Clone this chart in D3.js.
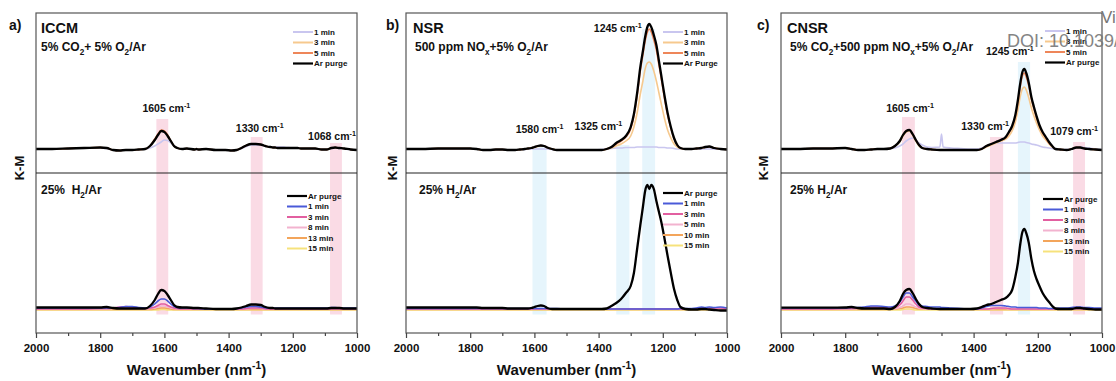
<!DOCTYPE html>
<html>
<head>
<meta charset="utf-8">
<script src="https://cdn.jsdelivr.net/npm/d3@7"></script>
<style>
  html, body { margin: 0; padding: 0; background: #fff; }
  svg { display: block; font-family: "Liberation Sans", Arial, sans-serif; }
</style>
</head>
<body>
<div id="chart"></div>
<script>
// wavenumber grid (cm-1) shared by every spectrum below
const wn = [
  2000, 1950, 1900, 1850, 1800, 1780, 1760, 1740, 1720, 1700, 1680, 1660,
  1645, 1630, 1620, 1610, 1600, 1590, 1580, 1570, 1560, 1545, 1530,
  1505, 1500, 1495, 1470, 1440, 1410, 1390, 1375,
  1360, 1345, 1330, 1315, 1300, 1290, 1280,
  1270, 1262, 1255, 1248, 1242, 1236, 1228, 1220, 1212, 1204,
  1195, 1185, 1175, 1165, 1155, 1145, 1130,
  1110, 1095, 1080, 1068, 1055, 1040, 1020, 1000
];

// ---- a) ICCM, adsorption (5% CO2 + 5% O2/Ar) ----
const iccmTop1 = [
  0, 0, 0.005, 0.01, 0.01, 0.005, -0.01, -0.015, -0.01, -0.01, -0.005, 0,
  0.01, 0.03, 0.05, 0.07, 0.09, 0.085, 0.06, 0.03, 0.01, 0, 0,
  -0.005, -0.005, -0.005, 0, -0.01, -0.01, -0.015, -0.01,
  0.005, 0.025, 0.04, 0.04, 0.04, 0.03, 0.025,
  0.02, 0.02, 0.02, 0.02, 0.02, 0.02, 0.02, 0.015, 0.015, 0.01,
  0.01, 0.01, 0.005, 0.005, 0.005, 0.005, 0,
  -0.005, -0.005, 0.005, 0.01, 0.005, 0, -0.005, -0.01
];
const iccmTop3 = [
  0, 0, 0.005, 0.01, 0.015, 0.01, -0.01, -0.015, -0.01, -0.01, -0.005, 0,
  0.03, 0.09, 0.145, 0.185, 0.175, 0.135, 0.08, 0.03, 0.01, 0, 0.005,
  -0.005, 0, -0.005, 0, -0.01, -0.01, -0.015, -0.01,
  0.01, 0.035, 0.05, 0.05, 0.045, 0.035, 0.025,
  0.02, 0.015, 0.015, 0.01, 0.01, 0.01, 0.01, 0.01, 0.01, 0.01,
  0.01, 0.01, 0.005, 0.005, 0.005, 0.005, 0.005,
  -0.005, -0.005, 0.01, 0.015, 0.01, 0.005, -0.005, -0.01
];
const iccmTop5 = [
  0, 0, 0.005, 0.01, 0.015, 0.01, -0.01, -0.015, -0.01, -0.01, -0.005, 0,
  0.03, 0.10, 0.15, 0.19, 0.18, 0.14, 0.08, 0.03, 0.01, 0, 0.005,
  -0.005, 0, -0.005, 0, -0.01, -0.01, -0.015, -0.01,
  0.01, 0.035, 0.05, 0.05, 0.045, 0.035, 0.025,
  0.02, 0.015, 0.015, 0.01, 0.01, 0.01, 0.01, 0.01, 0.01, 0.01,
  0.01, 0.01, 0.005, 0.005, 0.005, 0.005, 0.005,
  -0.005, -0.005, 0.01, 0.015, 0.01, 0.005, -0.005, -0.01
];
const iccmTopAr = [
  0, 0, 0.005, 0.01, 0.015, 0.01, -0.01, -0.015, -0.01, -0.01, -0.005, 0,
  0.03, 0.09, 0.14, 0.18, 0.17, 0.13, 0.08, 0.03, 0.01, 0, 0.005,
  -0.005, 0, -0.005, 0, -0.01, -0.01, -0.015, -0.01,
  0.01, 0.035, 0.05, 0.05, 0.045, 0.035, 0.025,
  0.02, 0.015, 0.015, 0.01, 0.01, 0.01, 0.01, 0.01, 0.01, 0.01,
  0.01, 0.01, 0.005, 0.005, 0.005, 0.005, 0.005,
  -0.005, -0.005, 0.01, 0.015, 0.01, 0.005, -0.005, -0.01
];
// ICCM, reduction (25% H2/Ar)
const iccmBotAr = [
  0.015, 0.015, 0.015, 0.015, 0.015, 0.02, 0.01, 0.005, 0.005, 0.005, 0.005, 0.005,
  0.03, 0.09, 0.15, 0.19, 0.18, 0.14, 0.09, 0.04, 0.02, 0.015, 0.015,
  0.01, 0.01, 0.01, 0.005, 0, 0, 0, 0.005,
  0.015, 0.03, 0.045, 0.045, 0.04, 0.025, 0.015,
  0.01, 0.01, 0.005, 0.005, 0.005, 0.005, 0.005, 0.005, 0.005, 0.005,
  0.005, 0.005, 0.005, 0.005, 0.005, 0.005, 0.005,
  0.005, 0.005, 0.01, 0.01, 0.01, 0.005, 0.005, 0.005
];
const iccmBot1 = [
  0.01, 0.01, 0.01, 0.01, 0.01, 0.01, 0.01, 0.015, 0.025, 0.025, 0.015, 0.01,
  0.02, 0.05, 0.08, 0.10, 0.10, 0.08, 0.05, 0.025, 0.015, 0.01, 0.01,
  0.005, 0.005, 0.005, 0, 0, 0, 0, 0.005,
  0.01, 0.02, 0.025, 0.025, 0.02, 0.015, 0.01,
  0.01, 0.01, 0.01, 0.01, 0.01, 0.01, 0.01, 0.01, 0.01, 0.01,
  0.01, 0.01, 0.01, 0.01, 0.01, 0.01, 0.01,
  0.01, 0.01, 0.015, 0.015, 0.01, 0.01, 0.01, 0.01
];
const iccmBot3 = [
  0, 0, 0, 0, 0.005, 0.005, 0.01, 0.02, 0.025, 0.02, 0.01, 0.005,
  0.01, 0.02, 0.035, 0.05, 0.05, 0.035, 0.02, 0.01, 0.005, 0, 0,
  0, 0, 0, 0, 0, 0, 0, 0,
  0, 0.005, 0.01, 0.01, 0.01, 0.005, 0,
  0, 0, 0, 0, 0, 0, 0, 0, 0, 0,
  0, 0, 0, 0, 0, 0, 0,
  0, 0, 0, 0, 0, 0, 0, 0
];
const iccmBot8 = [
  0, 0, 0, 0, 0, 0, 0.005, 0.01, 0.015, 0.01, 0.005, 0,
  0.005, 0.01, 0.02, 0.03, 0.03, 0.02, 0.01, 0.005, 0, 0, 0,
  0, 0, 0, 0, 0, 0, 0, 0,
  0, 0, 0.005, 0.005, 0.005, 0, 0,
  0, 0, 0, 0, 0, 0, 0, 0, 0, 0,
  0, 0, 0, 0, 0, 0, 0,
  0, 0, 0, 0, 0, 0, 0, 0
];
const iccmBot13 = [
  -0.005, -0.005, -0.005, -0.005, -0.005, -0.005, -0.005, -0.005, -0.005, -0.005, -0.005, -0.005,
  -0.005, 0, 0.005, 0.01, 0.01, 0.005, 0, -0.005, -0.005, -0.005, -0.005,
  -0.005, -0.005, -0.005, -0.005, -0.005, -0.005, -0.005, -0.005,
  -0.005, -0.005, -0.005, -0.005, -0.005, -0.005, -0.005,
  -0.005, -0.005, -0.005, -0.005, -0.005, -0.005, -0.005, -0.005, -0.005, -0.005,
  -0.005, -0.005, -0.005, -0.005, -0.005, -0.005, -0.005,
  -0.005, -0.005, -0.005, -0.005, -0.005, -0.005, -0.005, -0.005
];
const iccmBot15 = [
  -0.01, -0.01, -0.01, -0.01, -0.01, -0.01, -0.01, -0.01, -0.01, -0.01, -0.01, -0.01,
  -0.01, -0.01, -0.01, -0.005, -0.005, -0.01, -0.01, -0.01, -0.01, -0.01, -0.01,
  -0.01, -0.01, -0.01, -0.01, -0.01, -0.01, -0.01, -0.01,
  -0.01, -0.01, -0.01, -0.01, -0.01, -0.01, -0.01,
  -0.01, -0.01, -0.01, -0.01, -0.01, -0.01, -0.01, -0.01, -0.01, -0.01,
  -0.01, -0.01, -0.01, -0.01, -0.01, -0.01, -0.01,
  -0.01, -0.01, -0.01, -0.01, -0.01, -0.01, -0.01, -0.01
];

// ---- b) NSR, adsorption (500 ppm NOx + 5% O2/Ar) ----
const nsrTop1 = [
  0, 0, 0, 0, 0, 0, -0.01, -0.01, -0.005, -0.005, -0.01, -0.01,
  -0.005, -0.005, 0, 0, 0, 0, 0, 0, 0, -0.005, -0.01,
  -0.01, -0.01, -0.01, -0.01, -0.01, -0.01, -0.005, 0,
  0.005, 0.01, 0.01, 0.015, 0.015, 0.015, 0.02,
  0.02, 0.02, 0.02, 0.02, 0.02, 0.02, 0.02, 0.02, 0.015, 0.015,
  0.015, 0.01, 0.01, 0.005, 0, 0, 0,
  0, 0, 0, 0, 0, 0, 0, -0.005
];
const nsrTop3 = [
  0, 0, 0.005, 0.005, 0.005, 0, -0.01, -0.01, -0.005, -0.005, -0.01, -0.01,
  -0.005, 0, 0.005, 0.01, 0.015, 0.025, 0.03, 0.03, 0.015, 0, -0.01,
  -0.01, -0.01, -0.01, -0.01, -0.01, -0.01, -0.01, 0,
  0.01, 0.03, 0.05, 0.08, 0.13, 0.22, 0.36,
  0.55, 0.68, 0.80, 0.86, 0.87, 0.85, 0.78, 0.68, 0.56, 0.44,
  0.31, 0.19, 0.11, 0.05, 0.02, 0.005, 0,
  0, 0.005, 0.01, 0.015, 0.02, 0.01, 0, -0.005
];
const nsrTop5 = [
  0, 0, 0.005, 0.005, 0.005, 0, -0.01, -0.01, -0.005, -0.005, -0.01, -0.01,
  -0.005, 0, 0.005, 0.01, 0.02, 0.03, 0.035, 0.03, 0.015, 0, -0.01,
  -0.01, -0.01, -0.01, -0.01, -0.01, -0.01, -0.01, 0,
  0.02, 0.05, 0.08, 0.12, 0.20, 0.33, 0.53,
  0.78, 0.94, 1.08, 1.17, 1.20, 1.17, 1.09, 0.99, 0.84, 0.69,
  0.51, 0.34, 0.21, 0.10, 0.04, 0.01, 0,
  0, 0.005, 0.01, 0.02, 0.025, 0.01, 0, -0.005
];
const nsrTopAr = [
  0, 0, 0.005, 0.005, 0.005, 0, -0.01, -0.01, -0.005, -0.005, -0.01, -0.01,
  -0.005, 0, 0.005, 0.01, 0.02, 0.03, 0.035, 0.03, 0.015, 0, -0.01,
  -0.01, -0.01, -0.01, -0.01, -0.01, -0.01, -0.01, 0,
  0.02, 0.06, 0.09, 0.13, 0.22, 0.35, 0.56,
  0.82, 0.98, 1.12, 1.22, 1.25, 1.22, 1.14, 1.04, 0.88, 0.72,
  0.54, 0.36, 0.22, 0.11, 0.04, 0.01, 0,
  0, 0.005, 0.01, 0.02, 0.025, 0.01, 0, -0.005
];
// NSR, reduction (25% H2/Ar)
const nsrBotAr = [
  0.015, 0.015, 0.015, 0.015, 0.015, 0.015, 0.01, 0.01, 0.01, 0.01, 0.005, 0.005,
  0.005, 0.005, 0.005, 0.01, 0.02, 0.03, 0.035, 0.03, 0.01, 0, 0,
  0, 0, 0, 0, 0, 0, 0, 0.005,
  0.03, 0.06, 0.10, 0.16, 0.23, 0.36, 0.60,
  0.84, 1.02, 1.18, 1.24, 1.20, 1.24, 1.20, 1.08, 0.97, 0.86,
  0.71, 0.53, 0.36, 0.20, 0.09, 0.02, 0,
  -0.005, -0.005, 0, 0, -0.005, -0.01, -0.015, -0.015
];
const nsrBot1 = [
  0.005, 0.005, 0.005, 0.005, 0.005, 0.005, 0.005, 0.005, 0.005, 0.005, 0.005, 0.005,
  0.005, 0.005, 0.005, 0.005, 0.005, 0.005, 0.005, 0.005, 0.005, 0.005, 0.005,
  0, 0, 0, 0, 0, 0, 0, 0,
  0, 0, 0, 0, 0, 0, 0,
  0, 0, 0, 0, 0, 0, 0, 0, 0, 0,
  0, 0, 0, 0, 0, 0.005, 0.005,
  0.005, 0.01, 0.02, 0.015, 0.02, 0.015, 0.02, 0.01
];
const nsrBot3 = [
  0, 0, 0, 0, 0, 0, 0, 0, 0, 0, 0, 0,
  0, 0, 0, 0, 0, 0, 0, 0, 0, 0, 0,
  0, 0, 0, 0, 0, 0, 0, 0,
  0, 0, 0, 0, 0, 0, 0,
  0, 0, 0, 0, 0, 0, 0, 0, 0, 0,
  0, 0, 0, 0, 0, 0, 0,
  0, 0.005, 0.01, 0.01, 0.01, 0.01, 0.01, 0.005
];
const nsrBot5 = [
  0, 0, 0, 0, 0, 0, 0, 0, 0, 0, 0, 0,
  0, 0, 0, 0, 0, 0, 0, 0, 0, 0, 0,
  0, 0, 0, 0, 0, 0, 0, 0,
  0, 0, 0, 0, 0, 0, 0,
  0, 0, 0, 0, 0, 0, 0, 0, 0, 0,
  0, 0, 0, 0, 0, 0, 0,
  0, 0, 0, 0, 0, 0, 0, 0
];
const nsrBot10 = [
  -0.005, -0.005, -0.005, -0.005, -0.005, -0.005, -0.005, -0.005, -0.005, -0.005, -0.005, -0.005,
  -0.005, -0.005, -0.005, -0.005, -0.005, -0.005, -0.005, -0.005, -0.005, -0.005, -0.005,
  -0.005, -0.005, -0.005, -0.005, -0.005, -0.005, -0.005, -0.005,
  -0.005, -0.005, -0.005, -0.005, -0.005, -0.005, -0.005,
  -0.005, -0.005, -0.005, -0.005, -0.005, -0.005, -0.005, -0.005, -0.005, -0.005,
  -0.005, -0.005, -0.005, -0.005, -0.005, -0.005, -0.005,
  -0.005, -0.005, -0.005, -0.005, -0.005, -0.005, -0.005, -0.005
];
const nsrBot15 = [
  -0.01, -0.01, -0.01, -0.01, -0.01, -0.01, -0.01, -0.01, -0.01, -0.01, -0.01, -0.01,
  -0.01, -0.01, -0.01, -0.01, -0.01, -0.01, -0.01, -0.01, -0.01, -0.01, -0.01,
  -0.01, -0.01, -0.01, -0.01, -0.01, -0.01, -0.01, -0.01,
  -0.01, -0.01, -0.01, -0.01, -0.01, -0.01, -0.01,
  -0.01, -0.01, -0.01, -0.01, -0.01, -0.01, -0.01, -0.01, -0.01, -0.01,
  -0.01, -0.01, -0.01, -0.01, -0.01, -0.01, -0.01,
  -0.01, -0.01, -0.01, -0.01, -0.01, -0.01, -0.01, -0.01
];

// ---- c) CNSR, adsorption (5% CO2 + 500 ppm NOx + 5% O2/Ar) ----
const cnsrTop1 = [
  0, 0, 0.005, 0.005, 0.01, 0, -0.01, -0.01, -0.005, 0, 0, 0.005,
  0.01, 0.03, 0.05, 0.08, 0.10, 0.11, 0.09, 0.06, 0.04, 0.02, 0.015,
  0.02, 0.15, 0.02, 0.01, 0.005, 0, 0, 0.01,
  0.03, 0.05, 0.06, 0.06, 0.06, 0.06, 0.06,
  0.06, 0.065, 0.07, 0.07, 0.07, 0.065, 0.06, 0.05, 0.045, 0.04,
  0.03, 0.02, 0.015, 0.01, 0.005, 0, -0.005,
  -0.005, 0, 0.01, 0.02, 0.015, 0.01, 0, -0.005
];
const cnsrTop3 = [
  0, 0, 0.005, 0.005, 0.01, 0, -0.01, -0.01, -0.005, 0, 0, 0.005,
  0.03, 0.07, 0.13, 0.17, 0.18, 0.14, 0.08, 0.03, 0.01, 0, -0.005,
  -0.01, -0.01, -0.01, -0.01, -0.01, -0.01, -0.01, 0,
  0.02, 0.04, 0.06, 0.08, 0.10, 0.13, 0.18,
  0.27, 0.39, 0.52, 0.60, 0.62, 0.59, 0.51, 0.41, 0.33, 0.26,
  0.19, 0.13, 0.09, 0.05, 0.02, 0, -0.005,
  -0.01, 0, 0.015, 0.015, 0.005, 0, -0.005, -0.01
];
const cnsrTop5 = [
  0, 0, 0.005, 0.005, 0.01, 0, -0.01, -0.01, -0.005, 0, 0, 0.005,
  0.03, 0.08, 0.14, 0.18, 0.19, 0.15, 0.09, 0.04, 0.01, 0, -0.005,
  -0.01, -0.01, -0.01, -0.01, -0.01, -0.01, -0.01, 0,
  0.03, 0.05, 0.07, 0.09, 0.11, 0.16, 0.22,
  0.32, 0.46, 0.62, 0.73, 0.76, 0.72, 0.63, 0.50, 0.40, 0.31,
  0.23, 0.16, 0.11, 0.06, 0.03, 0, -0.005,
  -0.01, 0, 0.015, 0.015, 0.005, 0, -0.005, -0.01
];
const cnsrTopAr = [
  0, 0, 0.005, 0.005, 0.01, 0, -0.01, -0.01, -0.005, 0, 0, 0.005,
  0.03, 0.08, 0.14, 0.18, 0.19, 0.15, 0.09, 0.04, 0.01, 0, -0.005,
  -0.01, -0.01, -0.01, -0.01, -0.01, -0.01, -0.01, 0,
  0.03, 0.05, 0.07, 0.09, 0.12, 0.17, 0.23,
  0.34, 0.49, 0.65, 0.77, 0.80, 0.76, 0.66, 0.52, 0.42, 0.33,
  0.24, 0.17, 0.12, 0.07, 0.03, 0, -0.005,
  -0.01, 0, 0.015, 0.015, 0.005, 0, -0.005, -0.01
];
// CNSR, reduction (25% H2/Ar)
const cnsrBotAr = [
  0.013, 0.013, 0.013, 0.013, 0.015, 0.02, 0.01, 0.005, 0.005, 0.005, 0.005, 0,
  0.02, 0.08, 0.15, 0.19, 0.20, 0.16, 0.10, 0.05, 0.02, 0.01, 0.005,
  0, 0, 0, 0, 0, 0, 0.005, 0.02,
  0.04, 0.05, 0.07, 0.09, 0.11, 0.14, 0.19,
  0.32, 0.46, 0.64, 0.77, 0.80, 0.76, 0.66, 0.50, 0.38, 0.30,
  0.23, 0.16, 0.11, 0.07, 0.03, 0.005, 0,
  0, 0, 0.01, 0.01, 0.005, 0, -0.005, -0.005
];
const cnsrBot1 = [
  0.01, 0.01, 0.01, 0.01, 0.01, 0.015, 0.015, 0.02, 0.03, 0.03, 0.025, 0.02,
  0.03, 0.07, 0.12, 0.16, 0.16, 0.12, 0.08, 0.04, 0.03, 0.025, 0.02,
  0.02, 0.015, 0.015, 0.01, 0.005, 0, 0, 0.01,
  0.025, 0.035, 0.035, 0.035, 0.03, 0.025, 0.02,
  0.02, 0.015, 0.015, 0.015, 0.015, 0.015, 0.015, 0.015, 0.015, 0.015,
  0.01, 0.01, 0.01, 0.005, 0.005, 0.005, 0.01,
  0.01, 0.015, 0.02, 0.02, 0.015, 0.015, 0.01, 0.01
];
const cnsrBot3 = [
  0, 0, 0, 0, 0.005, 0.005, 0.01, 0.015, 0.02, 0.02, 0.015, 0.01,
  0.015, 0.04, 0.08, 0.12, 0.12, 0.09, 0.05, 0.02, 0.01, 0.005, 0,
  0, 0, 0, 0, 0, 0, 0, 0,
  0, 0.005, 0.01, 0.01, 0.01, 0.005, 0,
  0, 0, 0, 0, 0, 0, 0, 0, 0, 0,
  0, 0, 0, 0, 0, 0, 0,
  0, 0, 0.005, 0.005, 0, 0, 0, 0
];
const cnsrBot8 = [
  0, 0, 0, 0, 0, 0, 0.005, 0.01, 0.01, 0.01, 0.005, 0,
  0.005, 0.015, 0.03, 0.05, 0.05, 0.035, 0.02, 0.01, 0.005, 0, 0,
  0, 0, 0, 0, 0, 0, 0, 0,
  0, 0, 0.005, 0.005, 0.005, 0, 0,
  0, 0, 0, 0, 0, 0, 0, 0, 0, 0,
  0, 0, 0, 0, 0, 0, 0,
  0, 0, 0, 0, 0, 0, 0, 0
];
const cnsrBot13 = [
  -0.005, -0.005, -0.005, -0.005, -0.005, -0.005, -0.005, -0.005, -0.005, -0.005, -0.005, -0.005,
  0, 0.005, 0.01, 0.02, 0.02, 0.015, 0.005, 0, 0, 0, 0,
  -0.005, -0.005, -0.005, -0.005, -0.005, -0.005, -0.005, -0.005,
  -0.005, -0.005, -0.005, -0.005, -0.005, -0.005, -0.005,
  -0.005, -0.005, -0.005, -0.005, -0.005, -0.005, -0.005, -0.005, -0.005, -0.005,
  -0.005, -0.005, -0.005, -0.005, -0.005, -0.005, -0.005,
  -0.005, -0.005, -0.005, -0.005, -0.005, -0.005, -0.005, -0.005
];
const cnsrBot15 = [
  -0.01, -0.01, -0.01, -0.01, -0.01, -0.01, -0.01, -0.01, -0.01, -0.01, -0.01, -0.01,
  -0.01, -0.01, -0.005, 0, 0, -0.005, -0.01, -0.01, -0.01, -0.01, -0.01,
  -0.01, -0.01, -0.01, -0.01, -0.01, -0.01, -0.01, -0.01,
  -0.01, -0.01, -0.01, -0.01, -0.01, -0.01, -0.01,
  -0.01, -0.01, -0.01, -0.01, -0.01, -0.01, -0.01, -0.01, -0.01, -0.01,
  -0.01, -0.01, -0.01, -0.01, -0.01, -0.01, -0.01,
  -0.01, -0.01, -0.01, -0.01, -0.01, -0.01, -0.01, -0.01
];

// legends, bands (wavenumber ranges) and peak labels
const topLegendA = ['1 min', '3 min', '5 min', 'Ar purge'];
const topLegendB = ['1 min', '3 min', '5 min', 'Ar Purge'];
const botLegendAC = ['Ar purge', '1 min', '3 min', '8 min', '13 min', '15 min'];
const botLegendB = ['Ar purge', '1 min', '3 min', '5 min', '10 min', '15 min'];

const iccmBands = [[1625, 1588], [1331, 1294], [1084, 1047]];
const nsrBands = [[1606, 1562], [1345, 1304], [1264, 1224]];
const cnsrBands = [[1623, 1583], [1349, 1308], [1262, 1224], [1090, 1053]];

const iccmPeaks = ['1605', '1330', '1068'];
const nsrPeaks = ['1245', '1580', '1325'];
const cnsrPeaks = ['1605', '1330', '1245', '1079'];

const xTicks = [2000, 1800, 1600, 1400, 1200, 1000];
const xMinorTicks = [1900, 1700, 1500, 1300, 1100];

// ---- drawing ----
const width = 1116, height = 381;
const frameTop = 13, frameMid = 173, frameBottom = 333, frameW = 321;
const topColors = ['#c9c6ef', '#f6c98e', '#ee8659', '#000000'];
const botColors = ['#000000', '#4a5ad8', '#e25fa0', '#f2b3cf', '#f3a55b', '#f6e27c'];
const pink = '#fadbe5', blue = '#e6f5fc';

const panels = [
  {
    left: 36, letter: 'a)', letterX: 9, kmX: 19,
    title: 'ICCM', titleX: 41,
    cond: [['5% CO'], ['2', 'sub'], ['+ 5% O'], ['2', 'sub'], ['/Ar']], condX: 41,
    botCond: [['25%  H'], ['2', 'sub'], ['/Ar']], botCondX: 41,
    top: [iccmTop1, iccmTop3, iccmTop5, iccmTopAr], topLegend: topLegendA, topLegendPos: [257, 32],
    bottom: [iccmBotAr, iccmBot1, iccmBot3, iccmBot8, iccmBot13, iccmBot15], botLegend: botLegendAC, botLegendPos: [251, 196],
    bands: iccmBands, bandTops: [0.30, 0.12, 0.06], bandFill: [pink, pink, pink],
    peaks: iccmPeaks, peakPos: [[1594, 0.37, 'middle'], [1303, 0.17, 'middle'], [1078, 0.09, 'middle']]
  },
  {
    left: 406, letter: 'b)', letterX: 386, kmX: 392,
    title: 'NSR', titleX: 413,
    cond: [['500 ppm NO'], ['x', 'sub'], ['+5% O'], ['2', 'sub'], ['/Ar']], condX: 415,
    botCond: [['25% H'], ['2', 'sub'], ['/Ar']], botCondX: 419,
    top: [nsrTop1, nsrTop3, nsrTop5, nsrTopAr], topLegend: topLegendB, topLegendPos: [257, 32],
    bottom: [nsrBotAr, nsrBot1, nsrBot3, nsrBot5, nsrBot10, nsrBot15], botLegend: botLegendB, botLegendPos: [257, 193],
    bands: nsrBands, bandTops: [0.02, 0.04, 1.2], bandFill: [blue, blue, blue],
    peaks: nsrPeaks, peakPos: [[1266, 1.17, 'end'], [1584, 0.16, 'middle'], [1326, 0.19, 'end']]
  },
  {
    left: 781, letter: 'c)', letterX: 757, kmX: 763,
    title: 'CNSR', titleX: 787,
    cond: [['5% CO'], ['2', 'sub'], ['+500 ppm NO'], ['x', 'sub'], ['+5% O'], ['2', 'sub'], ['/Ar']], condX: 790,
    botCond: [['25% H'], ['2', 'sub'], ['/Ar']], botCondX: 790,
    top: [cnsrTop1, cnsrTop3, cnsrTop5, cnsrTopAr], topLegend: topLegendA, topLegendPos: [264, 31],
    bottom: [cnsrBotAr, cnsrBot1, cnsrBot3, cnsrBot8, cnsrBot13, cnsrBot15], botLegend: botLegendAC, botLegendPos: [262, 199],
    bands: cnsrBands, bandTops: [0.32, 0.12, 0.87, 0.07], bandFill: [pink, pink, blue, pink],
    peaks: cnsrPeaks, peakPos: [[1598, 0.37, 'middle'], [1364, 0.19, 'middle'], [1287, 0.94, 'middle'], [1087, 0.14, 'middle']]
  }
];

const svg = d3.select('#chart').append('svg')
  .attr('width', width)
  .attr('height', height);

// text with sub/superscripts
function rich(g, x, y, parts, size, anchor) {
  const t = g.append('text')
    .attr('x', x)
    .attr('y', y)
    .attr('text-anchor', anchor || 'start')
    .style('font-size', size + 'px')
    .style('font-weight', 'bold')
    .style('white-space', 'pre')
    .attr('fill', '#111');
  let shift = 0;
  parts.forEach(function(p) {
    const want = p[1] === 'sub' ? size * 0.3 : p[1] === 'sup' ? -size * 0.4 : 0;
    const ts = t.append('tspan').text(p[0]).attr('dy', want - shift);
    if (p[1]) { ts.style('font-size', (size * 0.68) + 'px'); }
    shift = want;
  });
  return t;
}

panels.forEach(function(p) {
  const g = svg.append('g');
  const x = d3.scaleLinear().domain([2000, 1000]).range([p.left, p.left + frameW]);
  const yTop = d3.scaleLinear().domain([-0.24, 1.36]).range([frameMid, frameTop]);
  const yBot = d3.scaleLinear().domain([-0.24, 1.36]).range([frameBottom, frameMid]);

  // highlight bands running through both halves
  p.bands.forEach(function(b, i) {
    g.append('rect')
      .attr('x', x(b[0]))
      .attr('y', yTop(p.bandTops[i]))
      .attr('width', x(b[1]) - x(b[0]))
      .attr('height', yBot(-0.055) - yTop(p.bandTops[i]))
      .attr('fill', p.bandFill[i]);
  });

  const lineTop = d3.line()
    .x(function(d, i) { return x(wn[i]); })
    .y(function(d) { return yTop(d); })
    .curve(d3.curveMonotoneX);
  const lineBot = d3.line()
    .x(function(d, i) { return x(wn[i]); })
    .y(function(d) { return yBot(d); })
    .curve(d3.curveMonotoneX);

  p.top.forEach(function(s, i) {
    g.append('path')
      .datum(s)
      .attr('fill', 'none')
      .attr('stroke', topColors[i])
      .attr('stroke-width', i === 3 ? 2.3 : 1.6)
      .attr('stroke-linejoin', 'round')
      .attr('d', lineTop);
  });
  // draw the bottom set back to front so Ar purge sits on top
  p.bottom.slice().reverse().forEach(function(s, j) {
    const i = p.bottom.length - 1 - j;
    g.append('path')
      .datum(s)
      .attr('fill', 'none')
      .attr('stroke', botColors[i])
      .attr('stroke-width', i === 0 ? 2.3 : 1.6)
      .attr('stroke-linejoin', 'round')
      .attr('d', lineBot);
  });

  // frame and divider
  g.append('rect')
    .attr('x', p.left).attr('y', frameTop)
    .attr('width', frameW).attr('height', frameBottom - frameTop)
    .attr('fill', 'none').attr('stroke', '#555').attr('stroke-width', 1.2);
  g.append('line')
    .attr('x1', p.left).attr('x2', p.left + frameW)
    .attr('y1', frameMid).attr('y2', frameMid)
    .attr('stroke', '#222').attr('stroke-width', 1.2);

  // x axis
  const ax = g.append('g')
    .attr('transform', 'translate(0,' + frameBottom + ')')
    .call(d3.axisBottom(x).tickValues(xTicks).tickSize(5).tickPadding(6).tickFormat(d3.format('d')));
  ax.select('.domain').remove();
  ax.selectAll('line').attr('stroke', '#444').attr('stroke-width', 1.2);
  ax.selectAll('text')
    .style('font-size', '11.5px')
    .style('font-weight', 'bold')
    .style('font-family', '"Liberation Sans", Arial, sans-serif')
    .attr('fill', '#111');
  const axm = g.append('g')
    .attr('transform', 'translate(0,' + frameBottom + ')')
    .call(d3.axisBottom(x).tickValues(xMinorTicks).tickSize(3).tickFormat(''));
  axm.select('.domain').remove();
  axm.selectAll('line').attr('stroke', '#444').attr('stroke-width', 1.2);

  rich(g, p.left + frameW / 2, 375, [['Wavenumber (nm'], ['-1', 'sup'], [')']], 15, 'middle');

  g.append('text')
    .attr('transform', 'translate(' + p.kmX + ',168) rotate(-90)')
    .attr('text-anchor', 'middle')
    .attr('dominant-baseline', 'central')
    .style('font-size', '13px')
    .style('font-weight', 'bold')
    .attr('fill', '#111')
    .text('K-M');

  g.append('text')
    .attr('x', p.letterX).attr('y', 30)
    .style('font-size', '14px')
    .style('font-weight', 'bold')
    .attr('fill', '#111')
    .text(p.letter);

  g.append('text')
    .attr('x', p.titleX).attr('y', 33)
    .style('font-size', '14.5px')
    .style('font-weight', 'bold')
    .attr('fill', '#111')
    .text(p.title);
  rich(g, p.condX, 51, p.cond, 12);
  rich(g, p.botCondX, 194, p.botCond, 12);

  // peak labels
  p.peaks.forEach(function(txt, i) {
    const pos = p.peakPos[i];
    rich(g, x(pos[0]), yTop(pos[1]), [[txt + ' cm'], ['-1', 'sup']], 10.5, pos[2]);
  });

  // legends
  function legend(names, colors, pos) {
    names.forEach(function(n, i) {
      const lx = p.left + pos[0], ly = pos[1] + i * 10.5;
      g.append('line')
        .attr('x1', lx).attr('x2', lx + 20)
        .attr('y1', ly).attr('y2', ly)
        .attr('stroke', colors[i])
        .attr('stroke-width', colors[i] === '#000000' ? 2.2 : 2);
      g.append('text')
        .attr('x', lx + 21).attr('y', ly)
        .attr('dy', '0.35em')
        .style('font-size', '8px')
        .style('font-weight', 'bold')
        .attr('fill', '#111')
        .text(n);
    });
  }
  legend(p.topLegend, topColors, p.topLegendPos);
  legend(p.botLegend, botColors, p.botLegendPos);
});

// publisher watermark at the top right, cut by the page edge (overlaps the legend as in the source)
svg.append('text')
  .attr('x', 1101).attr('y', 23)
  .style('font-size', '17px')
  .attr('fill', '#777')
  .text('View Article Online');
svg.append('text')
  .attr('x', 1007).attr('y', 47)
  .style('font-size', '18px')
  .attr('fill', '#777')
  .attr('opacity', 0.9)
  .text('DOI: 10.1039/');
</script>
</body>
</html>
